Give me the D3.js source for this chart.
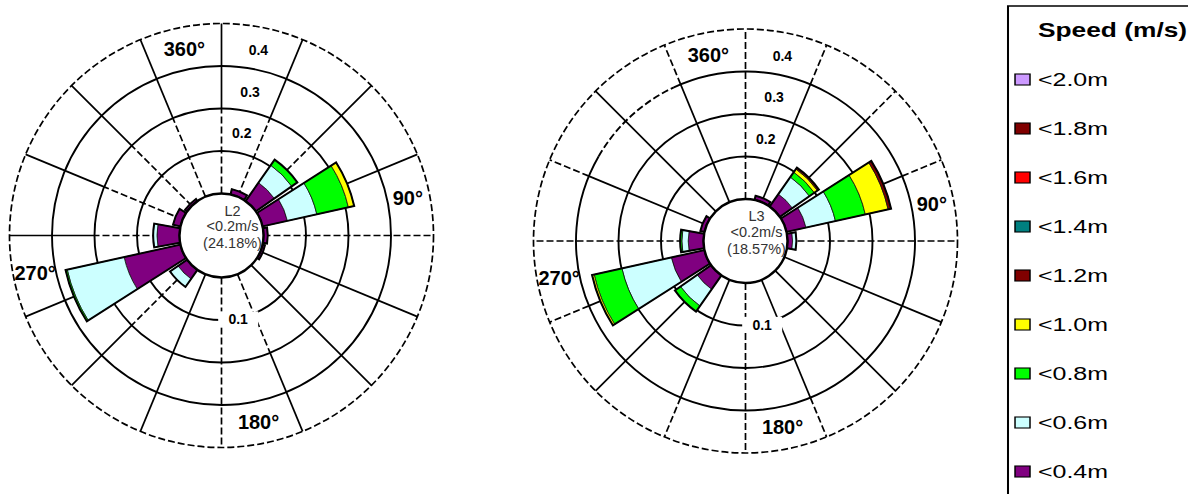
<!DOCTYPE html>
<html>
<head>
<meta charset="utf-8">
<script src="https://cdn.jsdelivr.net/npm/d3@7"></script>
<style>
  html, body { margin: 0; padding: 0; background: #fff; }
  svg { display: block; font-family: "Liberation Sans", Arial, sans-serif; }
</style>
</head>
<body>
<svg id="chart" width="1188" height="494"></svg>
<script>
// ---- data ----------------------------------------------------------
const directions = d3.range(16).map(i => i * 22.5);          // bearing, degrees
const speedClasses = ["<0.4m", "<0.6m", "<0.8m", "<1.0m", "<1.2m", "<1.4m", "<1.6m", "<1.8m", "<2.0m"];
const classColors  = ["#800080", "#ccffff", "#00ff00", "#ffff00", "#800000", "#008080", "#ff0000", "#800000", "#cc99ff"];
const radialTicks  = [0.1, 0.2, 0.3, 0.4];
const compassBearings = [0, 90, 180, 270];
const compassLabels   = ["360°", "90°", "180°", "270°"];

// L2 frequency by speed class, one value per direction
const l2Below04 = [0, 0.013, 0.053, 0.060, 0.010, 0.006, 0, 0, 0, 0, 0.026, 0.136, 0.053, 0.018, 0.006, 0];
const l2Below06 = [0, 0, 0.050, 0.071, 0, 0, 0, 0, 0, 0, 0.023, 0.137, 0.009, 0, 0, 0];
const l2Below08 = [0, 0, 0.016, 0.076, 0, 0, 0, 0, 0, 0, 0, 0.004, 0, 0, 0, 0];
const l2Below10 = [0, 0, 0, 0.014, 0, 0, 0, 0, 0, 0, 0, 0, 0, 0, 0, 0];
const l2Calm = ["L2", "<0.2m/s", "(24.18%)"];

// L3 frequency by speed class, one value per direction
const l3Below04 = [0, 0.010, 0.036, 0.047, 0.012, 0, 0, 0, 0, 0, 0.040, 0.080, 0.036, 0.010, 0, 0];
const l3Below06 = [0, 0, 0.049, 0.071, 0.009, 0, 0, 0, 0, 0, 0.048, 0.119, 0.015, 0, 0, 0];
const l3Below08 = [0, 0, 0.014, 0.072, 0, 0, 0, 0, 0, 0, 0.016, 0.067, 0.004, 0, 0, 0];
const l3Below10 = [0, 0, 0.009, 0.055, 0, 0, 0, 0, 0, 0, 0, 0.005, 0, 0, 0, 0];
const l3Below12 = [0, 0, 0.004, 0.007, 0, 0, 0, 0, 0, 0, 0, 0, 0, 0, 0, 0];
const l3Calm = ["L3", "<0.2m/s", "(18.57%)"];

// spoke line style per direction: solid, dashed, inner (dashed inside 0.2), outer (dashed beyond 0.3)
const l2Spokes = ["inner", "inner", "inner", "solid", "dashed", "solid", "solid", "inner",
                  "dashed", "solid", "inner", "solid", "inner", "inner", "inner", "inner"];
const l3Spokes = ["dashed", "outer", "outer", "outer", "dashed", "solid", "solid", "outer",
                  "dashed", "outer", "solid", "outer", "dashed", "outer", "solid", "outer"];

// ---- drawing -------------------------------------------------------
const svg = d3.select("#chart");
const rad = d => d * Math.PI / 180;
const r = d3.scaleLinear().domain([0, 0.4]).range([42, 212]);
const halfWidth = 10;   // half the angular width of a petal, degrees
const DASH = "7,3";

function polar(cx, cy, bearing, radius) {
  return [cx + radius * Math.sin(rad(bearing)), cy - radius * Math.cos(rad(bearing))];
}

function ringArc(cx, cy, radius, b0, b1) {
  const p = d3.path();
  const a0 = rad(b0 - 90), a1 = rad(b1 - 90);
  p.moveTo(cx + radius * Math.cos(a0), cy + radius * Math.sin(a0));
  p.arc(cx, cy, radius, a0, a1);
  return p.toString();
}

function drawRose(cfg) {
  const g = svg.append("g");
  const { cx, cy } = cfg;

  // rings
  radialTicks.forEach(v => {
    const dashedRing = v === 0.4;
    if (cfg.dashedArc && v === cfg.dashedArc.value) {
      const [b0, b1] = cfg.dashedArc.span;
      g.append("path").attr("d", ringArc(cx, cy, r(v), b1, b0 + 360))
        .attr("fill", "none").attr("stroke", "#000").attr("stroke-width", 1.9);
      g.append("path").attr("d", ringArc(cx, cy, r(v), b0, b1))
        .attr("fill", "none").attr("stroke", "#000").attr("stroke-width", 1.9)
        .attr("stroke-dasharray", DASH);
    } else {
      g.append("circle").attr("cx", cx).attr("cy", cy).attr("r", r(v))
        .attr("fill", "none").attr("stroke", "#000").attr("stroke-width", dashedRing ? 1.7 : 1.9)
        .attr("stroke-dasharray", dashedRing ? DASH : null);
    }
  });

  // spokes
  directions.forEach((b, i) => {
    const style = cfg.spokes[i];
    const seg = (v0, v1, dashed) => {
      const [x0, y0] = polar(cx, cy, b, r(v0));
      const [x1, y1] = polar(cx, cy, b, r(v1));
      g.append("line").attr("x1", x0).attr("y1", y0).attr("x2", x1).attr("y2", y1)
        .attr("stroke", "#000").attr("stroke-width", 1.7)
        .attr("stroke-dasharray", dashed ? DASH : null);
    };
    if (style === "solid") seg(0, 0.4, false);
    else if (style === "dashed") seg(0, 0.4, true);
    else if (style === "inner") { seg(0, 0.2, true); seg(0.2, 0.4, false); }
    else { seg(0, 0.3, false); seg(0.3, 0.4, true); }
  });

  // radial tick labels
  radialTicks.forEach(v => {
    const bearing = v === 0.1 ? 168.75 : 11.25;
    const rr = v === 0.1 ? r(v) + 1 : r(v) - 23;
    const [x, y] = polar(cx, cy, bearing, rr);
    if (v === 0.1) {
      g.append("rect").attr("x", x - 20).attr("y", y - 8).attr("width", 40).attr("height", 16)
        .attr("fill", "#fff");
    }
    g.append("text").attr("x", x).attr("y", y).attr("dy", "0.35em")
      .attr("text-anchor", "middle").attr("font-size", 14).attr("font-weight", "bold")
      .text(d3.format(".1f")(v));
  });

  // compass labels
  compassBearings.forEach((b, i) => {
    const [x, y] = polar(cx, cy, b - 11.25, 190);
    g.append("text").attr("x", x).attr("y", y).attr("dy", "0.35em")
      .attr("text-anchor", "middle").attr("font-size", 20).attr("font-weight", "bold")
      .text(compassLabels[i]);
  });

  // stacked petals
  const arc = d3.arc();
  directions.forEach((b, i) => {
    let cum = 0;
    const a0 = rad(b - halfWidth), a1 = rad(b + halfWidth);
    cfg.series.forEach((values, k) => {
      const v = values[i] || 0;
      if (v <= 0) return;
      g.append("path")
        .attr("d", arc({ innerRadius: r(cum), outerRadius: r(cum + v), startAngle: a0, endAngle: a1 }))
        .attr("transform", `translate(${cx},${cy})`)
        .attr("fill", classColors[k]).attr("stroke", "#111").attr("stroke-width", 0.8);
      cum += v;
    });
    if (cum > 0) {
      g.append("path")
        .attr("d", arc({ innerRadius: r(0), outerRadius: r(cum), startAngle: a0, endAngle: a1 }))
        .attr("transform", `translate(${cx},${cy})`)
        .attr("fill", "none").attr("stroke", "#000").attr("stroke-width", 2);
    }
  });

  // calm circle
  g.append("circle").attr("cx", cx).attr("cy", cy).attr("r", r(0))
    .attr("fill", "#fff").attr("stroke", "#000").attr("stroke-width", 2.4);
  const lineOffsets = [-25, -9.5, 7.5];
  cfg.calm.forEach((t, j) => {
    g.append("text").attr("x", cx + 11).attr("y", cy + lineOffsets[j]).attr("dy", "0.35em")
      .attr("text-anchor", "middle").attr("font-size", 14.5).attr("fill", "#333").text(t);
  });
}

drawRose({
  cx: 221.5, cy: 235.5,
  series: [l2Below04, l2Below06, l2Below08, l2Below10],
  spokes: l2Spokes, calm: l2Calm
});
drawRose({
  cx: 745.5, cy: 241,
  series: [l3Below04, l3Below06, l3Below08, l3Below10, l3Below12],
  spokes: l3Spokes, calm: l3Calm,
  dashedArc: { value: 0.3, span: [300, 335] }
});

// ---- legend --------------------------------------------------------
const sx = 1.35;
const legend = svg.append("g").attr("transform", `translate(1008,6) scale(${sx},1)`);
legend.append("rect").attr("x", 0).attr("y", 0).attr("width", 200).attr("height", 600)
  .attr("fill", "#fff").attr("stroke", "#000").attr("stroke-width", 1.5);
legend.append("text").attr("x", 22.2).attr("y", 31.3)
  .attr("font-size", 19.5).attr("font-weight", "bold").text("Speed (m/s)");
const legendOrder = d3.range(speedClasses.length).reverse();
legendOrder.forEach((k, j) => {
  const yc = 73.5 + j * 49;
  legend.append("rect").attr("x", 5.2).attr("y", yc - 5.5).attr("width", 11.1).attr("height", 11)
    .attr("fill", classColors[k]).attr("stroke", "#000").attr("stroke-width", 1.1);
  legend.append("text").attr("x", 22.2).attr("y", yc).attr("dy", "0.36em")
    .attr("font-size", 18.5).text(speedClasses[k]);
});
</script>
</body>
</html>
